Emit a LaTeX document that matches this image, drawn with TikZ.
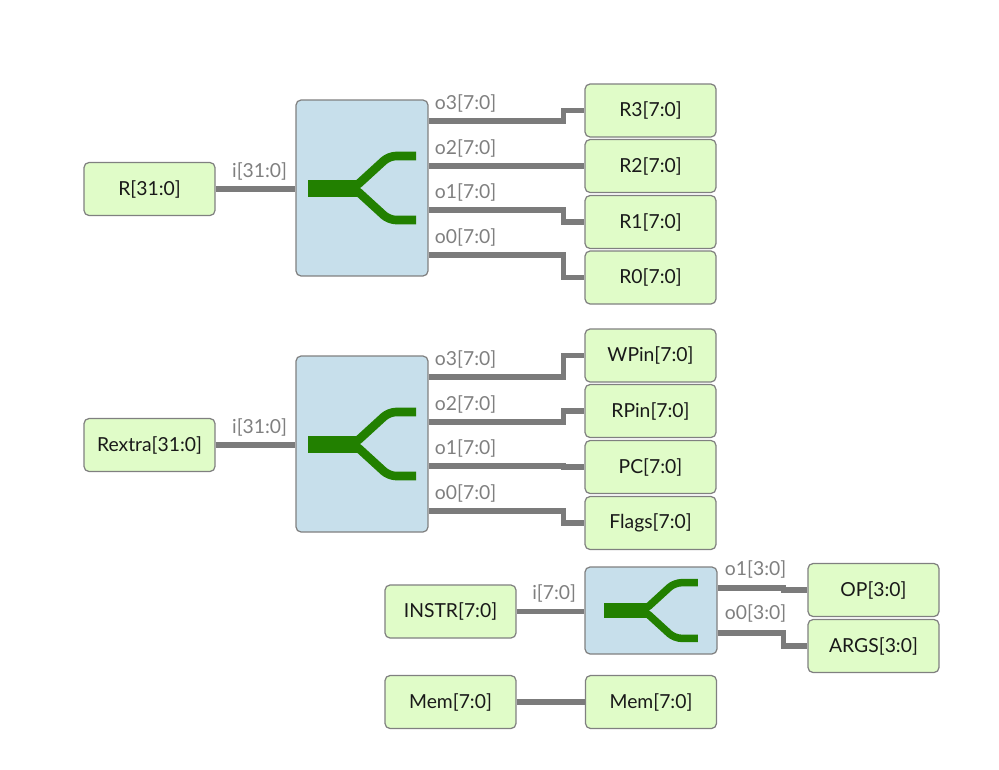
\documentclass[tikz,border=0pt]{standalone}
\usepackage{fontspec}
\setmainfont{Lato}
\usetikzlibrary{calc}
\definecolor{boxgreen}{HTML}{E0FCC8}
\definecolor{splitblue}{HTML}{C7DFEB}
\definecolor{busgreen}{HTML}{228000}
\definecolor{wiregray}{HTML}{7B7B7B}
\definecolor{edgegray}{HTML}{808080}
\definecolor{labelgray}{HTML}{7F7F7F}

\begin{document}
\begin{tikzpicture}[x=0.02cm, y=-0.02cm,
    wire/.style={draw=wiregray, line width=0.115cm},
    busline/.style={draw=busgreen, line width=0.172cm, rounded corners=0.14cm},
    portlabel/.style={text=labelgray, inner sep=0pt, font=\fontsize{11}{13}\selectfont}]

    \useasboundingbox (0,0) rectangle (999,769);

    % pins, use the tuple for location
    \begin{scope}[every node/.style={rectangle, rounded corners=0.1cm, draw=edgegray,
        line width=0.7pt, fill=boxgreen, minimum width=2.62cm, minimum height=1.06cm,
        text=black!90, font=\fontsize{11}{13}\selectfont}]
    \node (R) at (149.5,189) {R[31:0]};
    \node (Rextra) at (149.5,445) {Rextra[31:0]};
    \node (R3) at (650.5,110.5) {R3[7:0]};
    \node (R2) at (650.5,166) {R2[7:0]};
    \node (R1) at (650.5,222) {R1[7:0]};
    \node (R0) at (650.5,277.5) {R0[7:0]};
    \node (WPin) at (650.5,355.5) {WPin[7:0]};
    \node (RPin) at (650.5,411) {RPin[7:0]};
    \node (PC) at (650.5,467) {PC[7:0]};
    \node (Flags) at (650.5,523) {Flags[7:0]};
    \node (INSTR) at (450.5,611.5) {INSTR[7:0]};
    \node (OP) at (873.5,590) {OP[3:0]};
    \node (ARGS) at (873.5,646) {ARGS[3:0]};
    \node (MemL) at (450.5,702) {Mem[7:0]};
    \node (MemR) at (651,702) {Mem[7:0]};
    \end{scope}

    % splitters
    \begin{scope}[every node/.style={rectangle, rounded corners=0.1cm, draw=edgegray,
        line width=0.7pt, fill=splitblue, minimum width=2.64cm}]
    \node[minimum height=3.52cm] (SplitA) at (362,188) {};
    \node[minimum height=3.52cm] (SplitB) at (362,444) {};
    \node[minimum height=1.74cm] (SplitC) at (651,610.5) {};
    \end{scope}

    \begin{scope}[shift={(SplitA.center)}]
    \fill[busgreen] (-54,-8.5) rectangle (-5,8.5);
    \draw[busline] (-20,0) -- (-8,0) -- (27,-32) -- (54,-32);
    \draw[busline] (-20,0) -- (-8,0) -- (27,32) -- (54,32);
    \end{scope}
    \begin{scope}[shift={(SplitB.center)}]
    \fill[busgreen] (-54,-8.5) rectangle (-5,8.5);
    \draw[busline] (-20,0) -- (-8,0) -- (27,-32) -- (54,-32);
    \draw[busline] (-20,0) -- (-8,0) -- (27,32) -- (54,32);
    \end{scope}
    \begin{scope}[shift={(SplitC.center)}, scale=0.87]
    \fill[busgreen] (-54,-8.5) rectangle (-5,8.5);
    \draw[busline, line width=0.15cm] (-20,0) -- (-8,0) -- (27,-32) -- (54,-32);
    \draw[busline, line width=0.15cm] (-20,0) -- (-8,0) -- (27,32) -- (54,32);
    \end{scope}

    % ports
    \coordinate (SplitA-i) at (SplitA.west |- R.east);
    \coordinate (SplitA-o3) at ($(SplitA.east)+(0,-67)$);
    \coordinate (SplitA-o2) at ($(SplitA.east)+(0,-22.3)$);
    \coordinate (SplitA-o1) at ($(SplitA.east)+(0,22.3)$);
    \coordinate (SplitA-o0) at ($(SplitA.east)+(0,67)$);
    \coordinate (SplitB-i) at (SplitB.west |- Rextra.east);
    \coordinate (SplitB-o3) at ($(SplitB.east)+(0,-67)$);
    \coordinate (SplitB-o2) at ($(SplitB.east)+(0,-22.3)$);
    \coordinate (SplitB-o1) at ($(SplitB.east)+(0,22.3)$);
    \coordinate (SplitB-o0) at ($(SplitB.east)+(0,67)$);
    \coordinate (SplitC-i) at (SplitC.west |- INSTR.east);
    \coordinate (SplitC-o1) at ($(SplitC.east)+(0,-22.3)$);
    \coordinate (SplitC-o0) at ($(SplitC.east)+(0,22.3)$);

    % wires
    \draw[wire] (R.east) -- (SplitA-i);
    \draw[wire] (SplitA-o3) -| ($(R3.west)+(-21,0)$) -- (R3.west);
    \draw[wire] (SplitA-o2) -| ($(R2.west)+(-21,0)$) -- (R2.west);
    \draw[wire] (SplitA-o1) -| ($(R1.west)+(-21,0)$) -- (R1.west);
    \draw[wire] (SplitA-o0) -| ($(R0.west)+(-21,0)$) -- (R0.west);
    \draw[wire] (Rextra.east) -- (SplitB-i);
    \draw[wire] (SplitB-o3) -| ($(WPin.west)+(-21,0)$) -- (WPin.west);
    \draw[wire] (SplitB-o2) -| ($(RPin.west)+(-21,0)$) -- (RPin.west);
    \draw[wire] (SplitB-o1) -| ($(PC.west)+(-21,0)$) -- (PC.west);
    \draw[wire] (SplitB-o0) -| ($(Flags.west)+(-21,0)$) -- (Flags.west);
    \draw[wire] (INSTR.east) -- (SplitC-i);
    \draw[wire] (SplitC-o1) -| ($(OP.west)+(-24,0)$) -- (OP.west);
    \draw[wire] (SplitC-o0) -| ($(ARGS.west)+(-24,0)$) -- (ARGS.west);
    \draw[wire] (MemL.east) -- (MemR.west);

    % port labels
    \node[portlabel, anchor=base east] (LAi) at ([xshift=-0.16cm, yshift=0.23cm]SplitA-i) {i[31:0]};
    \node[portlabel, anchor=base west] (LA3) at ([xshift=0.12cm, yshift=0.23cm]SplitA-o3) {o3[7:0]};
    \node[portlabel, anchor=base west] (LA2) at ([xshift=0.12cm, yshift=0.23cm]SplitA-o2) {o2[7:0]};
    \node[portlabel, anchor=base west] (LA1) at ([xshift=0.12cm, yshift=0.23cm]SplitA-o1) {o1[7:0]};
    \node[portlabel, anchor=base west] (LA0) at ([xshift=0.12cm, yshift=0.23cm]SplitA-o0) {o0[7:0]};
    \node[portlabel, anchor=base east] (LBi) at ([xshift=-0.16cm, yshift=0.23cm]SplitB-i) {i[31:0]};
    \node[portlabel, anchor=base west] (LB3) at ([xshift=0.12cm, yshift=0.23cm]SplitB-o3) {o3[7:0]};
    \node[portlabel, anchor=base west] (LB2) at ([xshift=0.12cm, yshift=0.23cm]SplitB-o2) {o2[7:0]};
    \node[portlabel, anchor=base west] (LB1) at ([xshift=0.12cm, yshift=0.23cm]SplitB-o1) {o1[7:0]};
    \node[portlabel, anchor=base west] (LB0) at ([xshift=0.12cm, yshift=0.23cm]SplitB-o0) {o0[7:0]};
    \node[portlabel, anchor=base east] (LCi) at ([xshift=-0.16cm, yshift=0.25cm]SplitC-i) {i[7:0]};
    \node[portlabel, anchor=base west] (LC1) at ([xshift=0.14cm, yshift=0.26cm]SplitC-o1) {o1[3:0]};
    \node[portlabel, anchor=base west] (LC0) at ([xshift=0.14cm, yshift=0.26cm]SplitC-o0) {o0[3:0]};

\end{tikzpicture}
\end{document}
